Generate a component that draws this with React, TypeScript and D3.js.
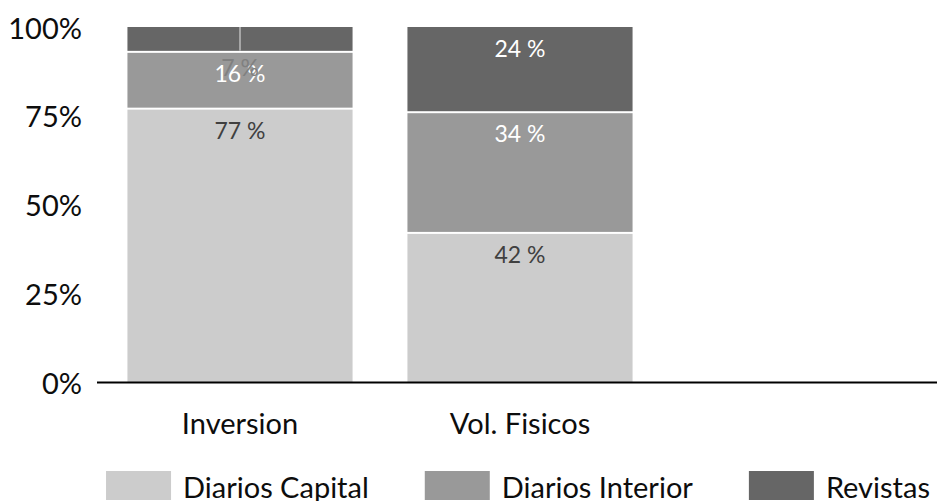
import React, { useRef, useEffect } from "react";
import * as d3 from "d3";

const categories = ["Inversion", "Vol. Fisicos"];
const seriesNames = ["Diarios Capital", "Diarios Interior", "Revistas"];
const diariosCapital = [77, 42];
const diariosInterior = [16, 34];
const revistas = [7, 24];
const yTicks = [0, 25, 50, 75, 100];

const colors = ["#cccccc", "#999999", "#666666"];
const labelColors = ["#404040", "#ffffff", "#ffffff"];

const App = () => {
  const svgRef = useRef<SVGSVGElement>(null);

  useEffect(() => {
    const svg = d3.select(svgRef.current);
    svg.selectAll("*").remove();

    const width = 937;
    const height = 501;
    const margin = { top: 27, right: 0, bottom: 119, left: 97 };
    const font = "Lato, 'Open Sans', sans-serif";

    const rows = categories.map((c, i) => ({
      category: c,
      [seriesNames[0]]: diariosCapital[i],
      [seriesNames[1]]: diariosInterior[i],
      [seriesNames[2]]: revistas[i],
    }));
    const stacked = d3.stack<any>().keys(seriesNames)(rows);

    // three slots, the last one stays empty
    const x = d3
      .scaleBand()
      .domain([...categories, "_empty"])
      .range([margin.left + 3, width - margin.right + 3])
      .paddingInner(0.196)
      .paddingOuter(0.098);

    const y = d3
      .scaleLinear()
      .domain([0, 100])
      .range([height - margin.bottom, margin.top]);

    // bars
    stacked.forEach((layer, si) => {
      svg
        .append("g")
        .selectAll("rect")
        .data(layer)
        .join("rect")
        .attr("x", (d: any) => x(d.data.category)!)
        .attr("width", x.bandwidth())
        .attr("y", (d) => y(d[1]) + (d[1] < 100 ? 1 : 0))
        .attr("height", (d) => y(d[0]) - y(d[1]) - (d[1] < 100 ? 1 : 0) - (d[0] > 0 ? 1 : 0))
        .attr("fill", colors[si]);
    });

    // data labels (inside end)
    stacked.forEach((layer, si) => {
      layer.forEach((d: any) => {
        const v = d[1] - d[0];
        const cx = x(d.data.category)! + x.bandwidth() / 2;
        const small = v < 10;
        if (small) {
          // leader line for the small segment, label pushed down
          svg
            .append("line")
            .attr("x1", cx)
            .attr("x2", cx)
            .attr("y1", y(d[1]))
            .attr("y2", y(d[0]) - 1)
            .attr("stroke", "#a6a6a6")
            .attr("stroke-width", 2);
        }
        svg
          .append("text")
          .attr("x", cx)
          .attr("y", small ? y(d[1]) + 40 : y(d[1]) + 21)
          .attr("text-anchor", "middle")
          .attr("dominant-baseline", "central")
          .attr("font-family", font)
          .attr("font-size", 23)
          .attr("fill", small ? "#808080" : labelColors[si])
          .text(`${v} %`);
      });
    });

    // y axis labels
    svg
      .append("g")
      .selectAll("text")
      .data(yTicks)
      .join("text")
      .attr("x", 82)
      .attr("y", (d) => y(d))
      .attr("text-anchor", "end")
      .attr("dominant-baseline", "central")
      .attr("font-family", font)
      .attr("font-size", 29)
      .attr("fill", "#0d0d0d")
      .text((d) => `${d}%`);

    // x axis line
    svg
      .append("line")
      .attr("x1", margin.left)
      .attr("x2", width - margin.right)
      .attr("y1", y(0) + 0.5)
      .attr("y2", y(0) + 0.5)
      .attr("stroke", "#000")
      .attr("stroke-width", 2);

    // category labels
    svg
      .append("g")
      .selectAll("text")
      .data(categories)
      .join("text")
      .attr("x", (d) => x(d)! + x.bandwidth() / 2)
      .attr("y", y(0) + 40)
      .attr("text-anchor", "middle")
      .attr("dominant-baseline", "central")
      .attr("font-family", font)
      .attr("font-size", 29)
      .attr("fill", "#0d0d0d")
      .text((d) => d);

    // legend
    const legend = svg.append("g");
    const boxW = 65;
    const boxH = 29;
    const gap = 12;
    const itemGap = 56;
    let cursor = 0;
    seriesNames.forEach((name, i) => {
      const g = legend.append("g").attr("transform", `translate(${cursor},0)`);
      g.append("rect")
        .attr("width", boxW)
        .attr("height", boxH)
        .attr("fill", colors[i]);
      const t = g
        .append("text")
        .attr("x", boxW + gap)
        .attr("y", boxH / 2 + 1)
        .attr("dominant-baseline", "central")
        .attr("font-family", font)
        .attr("font-size", 29)
        .attr("fill", "#0d0d0d")
        .text(name);
      const tw = (t.node() as SVGTextElement).getComputedTextLength();
      cursor += boxW + gap + tw + itemGap;
    });
    const total = cursor - itemGap;
    const center = (margin.left + width - margin.right) / 2;
    legend.attr("transform", `translate(${center - total / 2 + 1},471)`);
  }, []);

  return (
    <svg
      ref={svgRef}
      width="937"
      height="501"
      style={{ position: "absolute", left: 0, top: 0, background: "#fff" }}
    />
  );
};

export default App;
